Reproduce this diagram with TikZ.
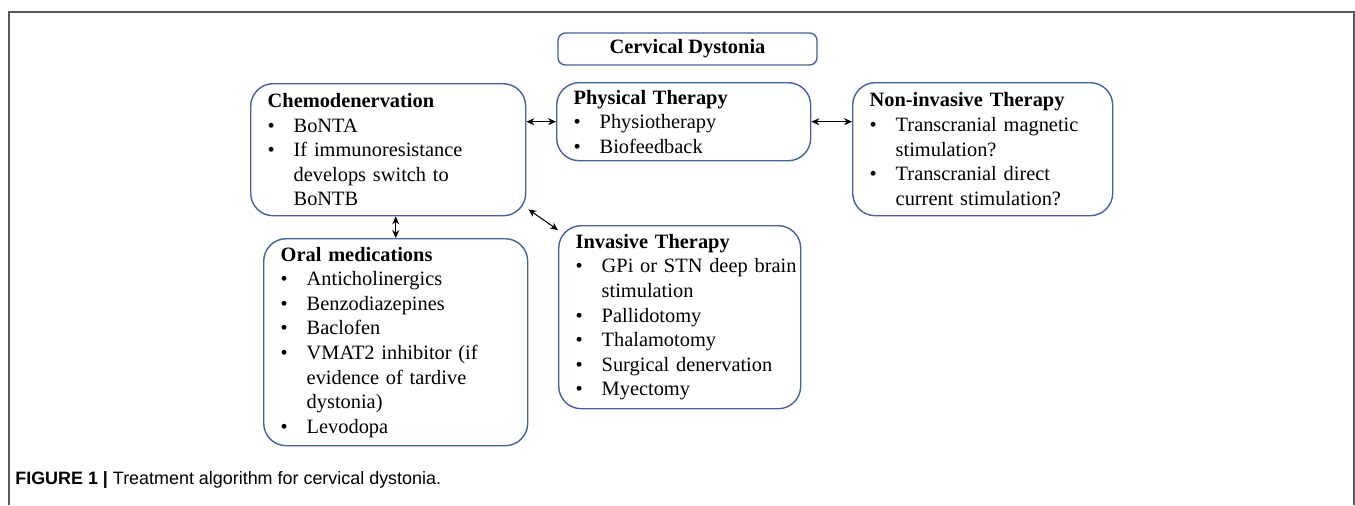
\documentclass[tikz,border=0pt]{standalone}
\usepackage{fontspec}
\setmainfont{Liberation Serif}
\newfontfamily\capfont{Liberation Sans}
\usetikzlibrary{arrows.meta}
\usetikzlibrary{positioning}
\definecolor{boxblue}{RGB}{68,98,158}
\definecolor{framegray}{RGB}{90,90,90}
\newcommand{\bitem}[1]{\par\noindent\hangindent=0.52cm\hangafter=1\makebox[0.52cm][l]{\textbullet}#1\par}
\tikzset{tbox/.style = {draw=boxblue, line width=0.8pt, rounded corners=0.45cm,
                        anchor=north west, align=left, inner xsep=0.34cm, inner ysep=0pt,
                        font=\fontsize{11.6}{14}\selectfont}}
\tikzset{link/.style = {{Stealth[length=4.5pt,width=4pt]}-{Stealth[length=4.5pt,width=4pt]}, line width=0.6pt}}

\begin{document}
\begin{tikzpicture}
          \useasboundingbox (0, 0) rectangle (27.1, -10.1);
          \draw [framegray, line width=1pt] (0.18, -10.1) -- (0.18, -0.24) -- (27.08, -0.24) -- (27.08, -10.1);
          \node [tbox, rounded corners=0.15cm, anchor=center, align=center, minimum width=5.18cm, minimum height=0.64cm] (cd) at (13.75, -0.98) {\textbf{Cervical Dystonia}};
          \node [tbox, minimum width=5.5cm, minimum height=2.64cm, text width=4.82cm] (chemo) at (5.0, -1.66)
            {\textbf{Chemodenervation}\bitem{BoNTA}\bitem{If immunoresistance\newline develops switch to\newline BoNTB}};
          \node [tbox, minimum width=5.08cm, minimum height=1.56cm, text width=4.4cm] (phys) at (11.12, -1.64)
            {\textbf{Physical Therapy}\bitem{Physiotherapy}\bitem{Biofeedback}};
          \node [tbox, minimum width=5.2cm, minimum height=2.66cm, text width=4.52cm] (noninv) at (17.04, -1.64)
            {\textbf{Non-invasive Therapy}\bitem{Transcranial~magnetic\newline stimulation?}\bitem{Transcranial direct\newline current stimulation?}};
          \node [tbox, minimum width=5.28cm, minimum height=4.14cm, text width=4.6cm] (oral) at (5.26, -4.76)
            {\textbf{Oral medications}\bitem{Anticholinergics}\bitem{Benzodiazepines}\bitem{Baclofen}\bitem{VMAT2 inhibitor (if\newline evidence of tardive\newline dystonia)}\bitem{Levodopa}};
          \node [tbox, minimum width=4.84cm, minimum height=3.66cm, text width=4.16cm] (inv) at (11.16, -4.5)
            {\textbf{Invasive Therapy}\bitem{GPi~or~STN~deep~brain\newline stimulation}\bitem{Pallidotomy}\bitem{Thalamotomy}\bitem{Surgical denervation}\bitem{Myectomy}};
          \draw [link] (chemo.east |- phys.west) -- (phys.west);
          \draw [link] (phys.east) -- (noninv.west |- phys.east);
          \draw [link] (oral.north |- chemo.south) -- (oral.north);
          \draw [link] ([shift={(0.04, 0.14)}]chemo.south east) -- ([shift={(0, -0.1)}]inv.north west);
          \node [anchor=west, inner sep=0, font=\capfont\fontsize{10.2}{12}\selectfont] (caption) at (0.3, -9.6)
            {\textbf{FIGURE 1 |} Treatment algorithm for cervical dystonia.};
        \end{tikzpicture}
\end{document}
